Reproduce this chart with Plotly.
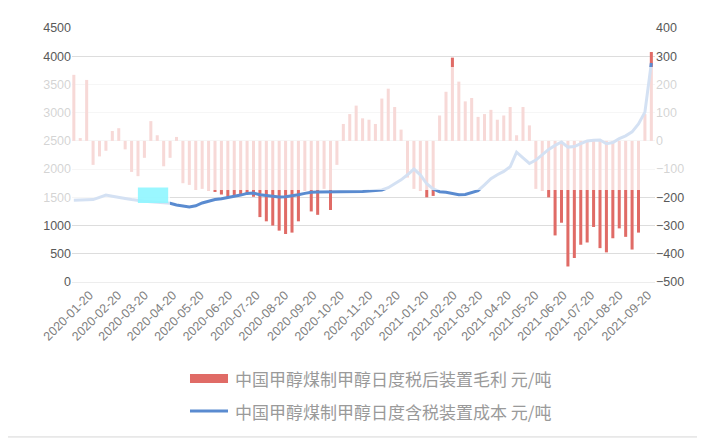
import pandas as pd
import plotly.graph_objects as go

# weekly points, 2020-01-03 .. 2021-09-24
dates = pd.date_range("2020-01-03", periods=91, freq="7D")

# gross profit after tax, yuan/t (right axis)
profit = [
    234, 10, 216, -85, -55, -35, 35, 45, -30, -110,
    -125, -60, 70, 20, -90, -60, 14, -150, -156, -174,
    -170, -175, -181, -190, -198, -196, -190, -188, -198, -270,
    -285, -300, -318, -330, -325, -285, -175, -250, -262, -170,
    -245, -85, 60, 95, 125, 80, 75, 60, 150, 185,
    120, 40, -130, -170, -175, -200, -195, 90, 174, 295,
    210, 140, 152, 85, 95, 110, 75, 90, 120, 20,
    120, 55, -170, -175, -200, -335, -290, -445, -415, -368,
    -360, -305, -380, -395, -345, -310, -340, -385, -325, 95,
    315,
]

# production cost incl. tax, yuan/t (left axis)
cost = [
    1450, 1450, 1455, 1460, 1500, 1540, 1520, 1505, 1480, 1460,
    1440, 1430, 1420, 1410, 1405, 1395, 1365, 1345, 1330, 1350,
    1400, 1430, 1460, 1475, 1495, 1510, 1540, 1570, 1575, 1545,
    1530, 1515, 1505, 1510, 1525, 1545, 1570, 1590, 1595, 1595,
    1595, 1595, 1595, 1595, 1600, 1605, 1610, 1615, 1630, 1670,
    1740, 1810, 1900, 2000, 1900, 1740, 1650, 1600, 1590, 1570,
    1545, 1550, 1590, 1620, 1720, 1830, 1900, 1960, 2040, 2300,
    2200, 2100, 2160, 2260, 2350, 2420, 2480, 2390, 2400, 2450,
    2500, 2510, 2515, 2450, 2470, 2540, 2590, 2660, 2800, 3010,
    3880,
]

profit_name = "中国甲醇煤制甲醇日度税后装置毛利 元/吨"
cost_name = "中国甲醇煤制甲醇日度含税装置成本 元/吨"

bar_color = "#E06B66"
line_color = "#5A8BD0"
grey = "#595959"
cjk = "Noto Sans CJK SC"

fig = go.Figure()
fig.add_trace(go.Bar(x=dates, y=profit, name=profit_name, yaxis="y",
                     marker=dict(color=bar_color, line=dict(width=0)),
                     width=3.3 * 86400000))
fig.add_trace(go.Scatter(x=dates, y=cost, name=cost_name, yaxis="y2",
                         mode="lines", line=dict(color=line_color, width=3)))

# page body has an 8px margin, so the figure is 8px smaller each way
fig.update_layout(
    width=697, height=430,
    margin=dict(l=64, r=50, t=20, b=156),
    paper_bgcolor="white", plot_bgcolor="white",
    showlegend=False,
    font=dict(family="Liberation Sans", size=12, color=grey),
    xaxis=dict(type="date", range=["2020-01-01", "2021-09-28"],
               tick0="2020-01-20", dtick="M1", tickformat="%Y-%m-%d",
               tickangle=-45, showgrid=False, zeroline=False,
               showline=True, linecolor="#EDEDED",
               tickfont=dict(size=12.5, color="#7f7f7f")),
    yaxis=dict(side="right", range=[-500, 400], dtick=100,
               showgrid=True, gridcolor="#DDDDDD", zeroline=False,
               tickfont=dict(size=12.5, color=grey)),
    yaxis2=dict(side="left", overlaying="y", range=[0, 4500], dtick=500,
                showgrid=False, zeroline=False,
                tickfont=dict(size=12.5, color=grey)),
)

# outer frame of the picture
fig.add_shape(type="rect", xref="paper", yref="paper",
              x0=-0.115, x1=1.0823, y0=-0.61, y1=1.0906,
              line=dict(color="#D6D6D6", width=1), layer="below")

# washed-out band across the middle of the image
wash = dict(type="rect", xref="paper", yref="paper", fillcolor="white",
            opacity=0.74, line=dict(width=0), layer="above")
fig.add_shape(x0=-0.124, x1=1.087, y0=0.362, y1=0.846, **wash)
fig.add_shape(x0=-0.124, x1=0.168, y0=0.303, y1=0.362, **wash)
fig.add_shape(type="rect", xref="paper", yref="paper",
              x0=0.113, x1=0.165, y0=0.311, y1=0.372,
              fillcolor="#8ff6ff", opacity=0.9, line=dict(width=0),
              layer="above")

# legend drawn by hand
fig.add_shape(type="rect", xref="paper", yref="paper",
              x0=0.2024, x1=0.2676, y0=-0.3976, y1=-0.3622,
              fillcolor=bar_color, line=dict(width=0))
fig.add_shape(type="line", xref="paper", yref="paper",
              x0=0.2024, x1=0.2676, y0=-0.508, y1=-0.508,
              line=dict(color=line_color, width=3))
for y, txt in [(-0.378, profit_name), (-0.508, cost_name)]:
    fig.add_annotation(x=0.2762, y=y, xref="paper", yref="paper",
                       xanchor="left", yanchor="middle", showarrow=False,
                       text=txt, font=dict(family=cjk, size=17, color="#9a9a9a"))

fig.write_html("out.html")
